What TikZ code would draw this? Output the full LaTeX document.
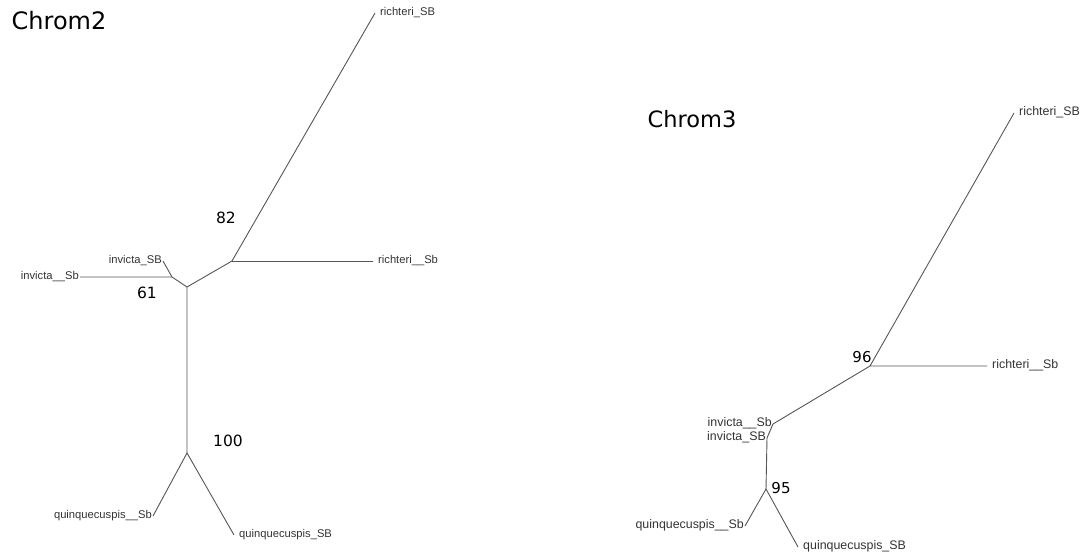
\documentclass[tikz,border=0pt]{standalone}
\usepackage{fontspec}
\setmainfont{DejaVu Sans}
\newfontfamily\tipfont{Liberation Sans}
\usepackage{tikz}
\definecolor{branchgray}{HTML}{555555}
\definecolor{tipgray}{HTML}{333333}

\begin{document}
\begin{tikzpicture}[x=1pt,y=-1pt,
  branch/.style={draw=branchgray,line width=0.9pt},
  tiplabel/.style={inner sep=1pt,text=tipgray,font=\tipfont\fontsize{11.2}{13}\selectfont},
  tipright/.style={tiplabel,anchor=mid west,xshift=4pt},
  tipleft/.style={tiplabel,anchor=mid east},
  bigtips/.style={font=\tipfont\fontsize{12.4}{14}\selectfont},
  support/.style={inner sep=0pt,font=\fontsize{15.5}{18}\selectfont},
  treetitle/.style={inner sep=0pt,font=\fontsize{24}{28}\selectfont}]
\useasboundingbox (0,0) rectangle (1089,554);
% Chrom2
\node[treetitle] (title2) at (59,21) {Chrom2};
\coordinate (c2a) at (187,453);
\coordinate (c2b) at (187,287);
\coordinate (c2c) at (232,261);
\coordinate (c2d) at (172,277);
\coordinate (c2r1) at (375,13);
\coordinate (c2r2) at (373,261);
\coordinate (c2i1) at (80,277);
\coordinate (c2i2) at (163,261);
\coordinate (c2q1) at (153,516);
\coordinate (c2q2) at (234,535);
\draw[branch] (c2a) -- (c2b) -- (c2c) -- (c2r1);
\draw[branch] (c2c) -- (c2r2);
\draw[branch] (c2b) -- (c2d) -- (c2i1);
\draw[branch] (c2d) -- (c2i2);
\draw[branch] (c2q1) -- (c2a) -- (c2q2);
\node[tipright] (c2r1l) at (c2r1) {richteri\_SB};
\node[tipright] (c2r2l) at (c2r2) {richteri\_\_Sb};
\node[tipleft] (c2i1l) at (c2i1) {invicta\_\_Sb};
\node[tipleft] (c2i2l) at (c2i2) {invicta\_SB};
\node[tipleft] (c2q1l) at (c2q1) {quinquecuspis\_\_Sb};
\node[tipright] (c2q2l) at (c2q2) {quinquecuspis\_SB};
\node[support] (s82) at (226,218) {82};
\node[support] (s61) at (147,293) {61};
\node[support] (s100) at (228,441) {100};
% Chrom3
\node[treetitle,font=\fontsize{22.5}{26}\selectfont] (title3) at (692,119) {Chrom3};
\coordinate (c3e) at (870,366);
\coordinate (c3f) at (773,424);
\coordinate (c3g) at (767,438);
\coordinate (c3h) at (766,489);
\coordinate (c3r1) at (1014,113);
\coordinate (c3r2) at (987,366);
\coordinate (c3q1) at (745,526);
\coordinate (c3q2) at (798,547);
\draw[branch] (c3r1) -- (c3e) -- (c3r2);
\draw[branch] (c3e) -- (c3f) -- (c3g) -- (c3h);
\draw[branch] (c3q1) -- (c3h) -- (c3q2);
\node[tipright,bigtips] (c3r1l) at (c3r1) {richteri\_SB};
\node[tipright,bigtips] (c3r2l) at (c3r2) {richteri\_\_Sb};
\node[tipleft,bigtips] (c3i1l) at (c3f) {invicta\_\_Sb};
\node[tipleft,bigtips] (c3i2l) at (c3g) {invicta\_SB};
\node[tipleft,bigtips] (c3q1l) at (c3q1) {quinquecuspis\_\_Sb};
\node[tipright,bigtips] (c3q2l) at (c3q2) {quinquecuspis\_SB};
\node[support,font=\fontsize{15}{18}\selectfont] (s96) at (862,357) {96};
\node[support,font=\fontsize{15}{18}\selectfont] (s95) at (781,488) {95};
\end{tikzpicture}
\end{document}
